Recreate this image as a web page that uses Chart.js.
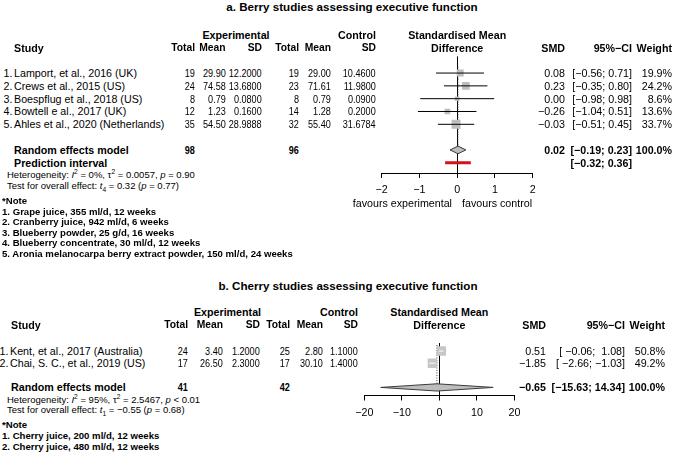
<!DOCTYPE html>
<html><head><meta charset="utf-8">
<script src="https://cdn.jsdelivr.net/npm/chart.js@4.4.0/dist/chart.umd.min.js"></script>
<style>
html,body{margin:0;padding:0;background:#fff;}
#root{position:relative;width:673px;height:458px;overflow:hidden;font-family:"Liberation Sans",Arial,Helvetica,sans-serif;color:#000;}
.t{position:absolute;white-space:pre;line-height:1;}
canvas{position:absolute;}
sup,sub{font-size:70%;line-height:0;}
</style></head><body><div id="root"></div>
<script>
// ---------- Panel a: Berry studies ----------
const studiesA = ["Lamport, et al., 2016 (UK)", "Crews et al., 2015 (US)", "Boespflug et al., 2018 (US)", "Bowtell e al., 2017 (UK)", "Ahles et al., 2020 (Netherlands)"];
const expTotalA = [19, 24, 8, 12, 35];
const expMeanA = [29.90, 74.58, 0.79, 1.23, 54.50];
const expSDA = [12.2000, 13.6800, 0.0800, 0.1600, 28.9888];
const ctlTotalA = [19, 23, 8, 14, 32];
const ctlMeanA = [29.00, 71.61, 0.79, 1.28, 55.40];
const ctlSDA = [10.4600, 11.9800, 0.0900, 0.2000, 31.6784];
const smdA = [0.08, 0.23, 0.00, -0.26, -0.03];
const lowerA = [-0.56, -0.35, -0.98, -1.04, -0.51];
const upperA = [0.71, 0.80, 0.98, 0.51, 0.45];
const weightA = [19.9, 24.2, 8.6, 13.6, 33.7];
const pooledA = [0.02, -0.19, 0.23];      // SMD, lower, upper
const predictionA = [-0.32, 0.36];
const sumTotalsA = [98, 96];
const hetA = ["0%", "0.0057", "= 0.90"];   // I2, tau2, p
const testA = ["4", "0.32", "0.77"];       // df, t, p
const ticksA = [-2, -1, 0, 1, 2];
const favoursA = ["favours experimental", "favours control"];
const notesA = ["Grape juice, 355 ml/d, 12 weeks", "Cranberry juice, 942 ml/d, 6 weeks", "Blueberry powder, 25 g/d, 16 weeks", "Blueberry concentrate, 30 ml/d, 12 weeks", "Aronia melanocarpa berry extract powder, 150 ml/d, 24 weeks"];

// ---------- Panel b: Cherry studies ----------
const studiesB = ["Kent, et al., 2017 (Australia)", "Chai, S. C., et al., 2019 (US)"];
const expTotalB = [24, 17];
const expMeanB = [3.40, 26.50];
const expSDB = [1.2000, 2.3000];
const ctlTotalB = [25, 17];
const ctlMeanB = [2.80, 30.10];
const ctlSDB = [1.1000, 1.4000];
const smdB = [0.51, -1.85];
const lowerB = [-0.06, -2.66];
const upperB = [1.08, -1.03];
const weightB = [50.8, 49.2];
const pooledB = [-0.65, -15.63, 14.34];
const sumTotalsB = [41, 42];
const hetB = ["95%", "2.5467", "&lt; 0.01"];
const testB = ["1", "\u22120.55", "0.68"];
const ticksB = [-20, -10, 0, 10, 20];
const notesB = ["Cherry juice, 200 ml/d, 12 weeks", "Cherry juice, 480 ml/d, 12 weeks"];

const FONT = '"Liberation Sans", Arial, Helvetica, sans-serif';
const root = document.getElementById('root');

function sgn(s){ return s.replace('-', '\u2212'); }
function fmt(v, d){ return sgn(v.toFixed(d)); }
function fmtPad(v, d, w){ return sgn(v.toFixed(d).padStart(w, ' ')); }
function ciText(lo, hi, wl, wh){ return '[' + fmtPad(lo, 2, wl) + '; ' + fmtPad(hi, 2, wh) + ']'; }
function tickLabel(v){ return v < 0 ? '\u2212' + Math.abs(v) : String(v); }

function txt(s, x, y, align, size, bold, html, sx){
  const el = document.createElement('div');
  el.className = 't';
  if (html) el.innerHTML = s; else el.textContent = s;
  el.style.fontSize = size + 'px';
  if (bold) el.style.fontWeight = 'bold';
  el.style.top = y + 'px';
  const sc = sx ? ' scaleX(' + sx + ')' : '';
  if (align === 'right'){ el.style.right = (673 - x) + 'px'; el.style.transform = 'translateY(-50%)' + sc; el.style.transformOrigin = 'right center'; }
  else if (align === 'center'){ el.style.left = x + 'px'; el.style.transform = 'translate(-50%,-50%)' + sc; }
  else { el.style.left = x + 'px'; el.style.transform = 'translateY(-50%)' + sc; el.style.transformOrigin = 'left center'; }
  root.appendChild(el);
  return el;
}

function forest(d, L){
  const canvas = document.createElement('canvas');
  canvas.width = L.canvas.w; canvas.height = L.canvas.h;
  canvas.style.left = L.canvas.x + 'px'; canvas.style.top = L.canvas.y + 'px';
  root.appendChild(canvas);
  const rows = d.smd.map((_, i) => i + 1);
  const pRow = d.smd.length + 2;
  const h = 0.3;
  const ds = [];
  // dotted line at pooled estimate
  ds.push({type:'line', data:[{x:d.pooled[0], y:0.5}, {x:d.pooled[0], y:pRow - h}], borderColor:'#444', borderWidth:1, borderDash:[1,1.5], pointRadius:0, fill:false, order:6});
  // study squares
  ds.push({type:'scatter', data:d.smd.map((v, i) => ({x:v, y:rows[i]})), pointStyle:'rect',
    pointRadius: c => L.sq * Math.sqrt(d.weight[c.dataIndex]) / Math.SQRT2,
    backgroundColor:L.sqColor, borderWidth:0, order:4});
  // confidence intervals
  d.lower.forEach((lo, i) => ds.push({type:'line', data:[{x:lo, y:rows[i]}, {x:d.upper[i], y:rows[i]}], borderColor:L.ciColor, borderWidth:1, pointRadius:0, fill:false, order:1}));
  // pooled diamond
  const [est, plo, phi] = d.pooled;
  ds.push({type:'line', data:[{x:plo, y:pRow}, {x:est, y:pRow - h}, {x:phi, y:pRow}, {x:est, y:pRow + h}, {x:plo, y:pRow}],
    fill:'shape', backgroundColor:'#bdbdbd', borderColor:'#3a3a3a', borderWidth:1, pointRadius:0, tension:0, order:2});
  // prediction interval
  if (d.prediction) ds.push({type:'line', data:[{x:d.prediction[0], y:pRow + 1}, {x:d.prediction[1], y:pRow + 1}], borderColor:'#d3121c', borderWidth:3.2, pointRadius:0, fill:false, order:2});

  const pad = {left:L.area.L - L.canvas.x, right:L.canvas.x + L.canvas.w - L.area.R, top:L.area.T - L.canvas.y, bottom:20};
  const chart = new Chart(canvas, {
    type:'scatter',
    data:{datasets:ds},
    options:{
      responsive:false, animation:false, devicePixelRatio:1, events:[],
      layout:{padding:pad},
      plugins:{legend:{display:false}, tooltip:{enabled:false}},
      scales:{
        x:{type:'linear', min:d.ticks[0], max:d.ticks[d.ticks.length - 1],
          afterBuildTicks: s => { s.ticks = d.ticks.map(v => ({value:v})); },
          ticks:{callback:v => tickLabel(v), color:'#000', font:{family:FONT, size:10.7}, padding:6, maxRotation:0, autoSkip:false},
          grid:{color: c => (c.tick && c.tick.value === 0) ? '#000' : 'rgba(0,0,0,0)', tickColor:'#000', tickLength:5, lineWidth:1, drawOnChartArea:true, drawTicks:true},
          border:{display:true, color:'#000', width:1}},
        y:{type:'linear', reverse:true, min:L.yMin, max:L.yMax, display:false}
      }
    }
  });
  for (let k = 0; k < 3; k++){
    const a = chart.chartArea;
    pad.left += (L.area.L - L.canvas.x) - a.left;
    pad.right += a.right - (L.area.R - L.canvas.x);
    pad.top += (L.area.T - L.canvas.y) - a.top;
    pad.bottom += a.bottom - (L.area.B - L.canvas.y);
    chart.update();
  }
  const yPix = r => L.canvas.y + chart.scales.y.getPixelForValue(r);
  const xPix = v => L.canvas.x + chart.scales.x.getPixelForValue(v);

  // titles & headers
  const F = 10.7, FH = 10.3, NS = 0.85;
  txt(d.title, L.title.x, L.title.y, 'center', 11.6, true);
  txt('Experimental', L.expCenter, L.head1Y, 'center', F, true);
  txt('Control', L.cols[5], L.head1Y, 'right', F, true);
  txt('Standardised Mean', xPix(0), L.head1Y, 'center', F, true);
  txt('Difference', xPix(0), L.head2Y, 'center', F, true);
  txt('Study', L.studyHeadX, L.head2Y, 'left', F, true);
  ['Total', 'Mean', 'SD', 'Total', 'Mean', 'SD'].forEach((s, i) => txt(s, L.cols[i], L.head2Y, 'right', FH, true));
  txt('SMD', L.smdR, L.head2Y, 'right', F, true);
  txt('95%\u2212CI', L.ciR, L.head2Y, 'right', F, true);
  txt('Weight', L.wR, L.head2Y, 'right', F, true);

  // widths for CI padding
  const lows = d.lower.concat([d.pooled[1]]).concat(d.prediction ? [d.prediction[0]] : []);
  const highs = d.upper.concat([d.pooled[2]]).concat(d.prediction ? [d.prediction[1]] : []);
  const wl = Math.max(...lows.map(v => v.toFixed(2).length));
  const wh = Math.max(...highs.map(v => v.toFixed(2).length));

  d.studies.forEach((s, i) => {
    const y = yPix(rows[i]);
    txt((i + 1) + '.', L.numX, y, 'right', F, false);
    txt(s, L.studyX, y, 'left', F, false);
    txt(String(d.expTotal[i]), L.cols[0], y, 'right', F, false, false, NS);
    txt(fmt(d.expMean[i], 2), L.cols[1], y, 'right', F, false, false, NS);
    txt(fmt(d.expSD[i], 4), L.cols[2], y, 'right', F, false, false, NS);
    txt(String(d.ctlTotal[i]), L.cols[3], y, 'right', F, false, false, NS);
    txt(fmt(d.ctlMean[i], 2), L.cols[4], y, 'right', F, false, false, NS);
    txt(fmt(d.ctlSD[i], 4), L.cols[5], y, 'right', F, false, false, NS);
    txt(fmt(d.smd[i], 2), L.smdR, y, 'right', F, false);
    txt(ciText(d.lower[i], d.upper[i], wl, wh), L.ciR, y, 'right', F, false);
    txt(d.weight[i].toFixed(1) + '%', L.wR, y, 'right', F, false);
  });
  const yp = yPix(pRow);
  txt('Random effects model', L.studyHeadX, yp, 'left', F, true);
  txt(String(d.totals[0]), L.cols[0], yp, 'right', F, true, false, NS);
  txt(String(d.totals[1]), L.cols[3], yp, 'right', F, true, false, NS);
  txt(fmt(d.pooled[0], 2), L.smdR, yp, 'right', F, true);
  txt(ciText(d.pooled[1], d.pooled[2], wl, wh), L.ciR, yp, 'right', F, true);
  txt('100.0%', L.wR, yp, 'right', F, true);
  if (d.prediction){
    const yq = yPix(pRow + 1);
    txt('Prediction interval', L.studyHeadX, yq, 'left', F, true);
    txt(ciText(d.prediction[0], d.prediction[1], wl, wh), L.ciR, yq, 'right', F, true);
  }
  txt('Heterogeneity: <i>I</i><sup>2</sup> = ' + d.het[0] + ', \u03c4<sup>2</sup> = ' + d.het[1] + ', <i>p</i> ' + d.het[2], L.hetX, L.hetY, 'left', 9.5, false, true);
  txt('Test for overall effect: <i>t</i><sub>' + d.test[0] + '</sub> = ' + d.test[1] + ' (<i>p</i> = ' + d.test[2] + ')', L.hetX, L.testY, 'left', 9.5, false, true);
  if (d.favours){
    txt(d.favours[0], L.favours.leftR, L.favours.y, 'right', F, false);
    txt(d.favours[1], L.favours.rightL, L.favours.y, 'left', F, false);
  }
  txt('*Note', L.noteX, L.noteY, 'left', 9.6, true);
  d.notes.forEach((s, i) => txt((i + 1) + '. ' + s, L.noteX, L.noteY + (i + 1) * L.noteStep, 'left', 9.6, true));
}

forest({title:'a. Berry studies assessing executive function', studies:studiesA, expTotal:expTotalA, expMean:expMeanA, expSD:expSDA,
  ctlTotal:ctlTotalA, ctlMean:ctlMeanA, ctlSD:ctlSDA, smd:smdA, lower:lowerA, upper:upperA, weight:weightA,
  pooled:pooledA, prediction:predictionA, totals:sumTotalsA, het:hetA, test:testA, ticks:ticksA, favours:favoursA, notes:notesA},
  {canvas:{x:330, y:40, w:260, h:190}, area:{L:381.7, R:532.7, T:56.4, B:173}, yMin:-0.3, yMax:8.8,
   sq:1.55, sqColor:'#bebebe', ciColor:'#000',
   title:{x:352, y:7}, head1Y:35, head2Y:48, expCenter:236, numX:12.5, studyX:14, studyHeadX:14,
   cols:[195, 225.5, 262, 299, 331, 376], smdR:565, ciR:632, wR:672,
   favours:{y:203, leftR:452, rightL:462}, hetX:7, hetY:175, testY:185.5, noteX:2, noteY:201, noteStep:10.6});

forest({title:'b. Cherry studies assessing executive function', studies:studiesB, expTotal:expTotalB, expMean:expMeanB, expSD:expSDB,
  ctlTotal:ctlTotalB, ctlMean:ctlMeanB, ctlSD:ctlSDB, smd:smdB, lower:lowerB, upper:upperB, weight:weightB,
  pooled:pooledB, prediction:null, totals:sumTotalsB, het:hetB, test:testB, ticks:ticksB, favours:null, notes:notesB},
  {canvas:{x:330, y:325, w:240, h:115}, area:{L:364.3, R:514.4, T:343, B:395.5}, yMin:0.333, yMax:4.667,
   sq:1.34, sqColor:'#c6c6c6', ciColor:'#fff',
   title:{x:348, y:286}, head1Y:312, head2Y:325, expCenter:227.5, numX:8.5, studyX:10, studyHeadX:11,
   cols:[188, 223, 260, 290, 323, 358], smdR:546, ciR:625, wR:665,
   hetX:7, hetY:400, testY:410, noteX:2, noteY:425, noteStep:11});
</script></body></html>
